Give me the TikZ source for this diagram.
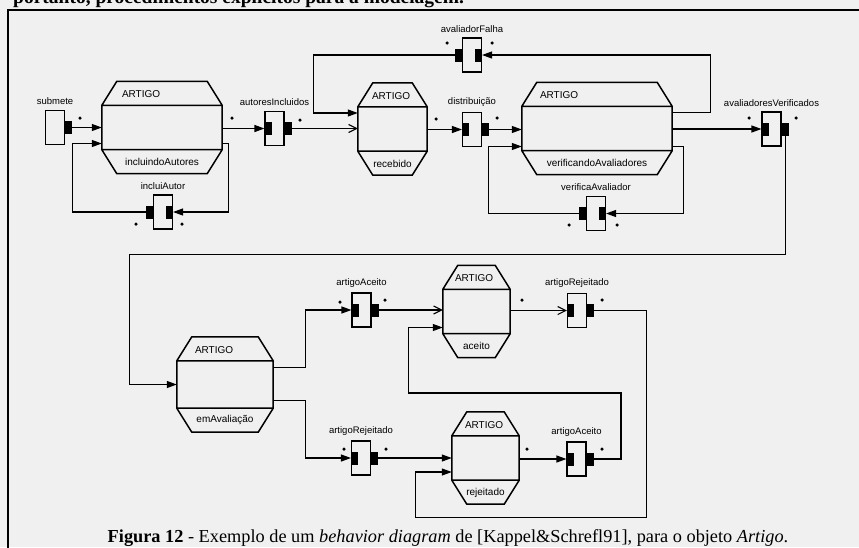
\documentclass[tikz,border=0pt]{standalone}
\usepackage{fontspec}
\setmainfont{Liberation Serif}
\newfontfamily\diagfont{Liberation Sans}
\usetikzlibrary{positioning,arrows.meta,calc}
\definecolor{paper}{gray}{0.94}

\begin{document}
\begin{tikzpicture}[x=1pt, y=-1pt,
        state/.style={rectangle, minimum height=92pt, inner sep=0pt},
        stline/.style={line width=1.5pt, line join=miter},
        sttext/.style={font=\diagfont\fontsize{10}{12}\selectfont, inner sep=0pt},
        act/.style={draw, fill=paper, line width=1.1pt, minimum width=19pt, minimum height=34pt, inner sep=0pt},
        port/.style={fill=black, minimum width=7pt, minimum height=13pt, inner sep=0pt},
        actlbl/.style={font=\diagfont\fontsize{9.5}{11}\selectfont, inner sep=1pt},
        arcdot/.style={circle, fill=black, minimum size=3.5pt, inner sep=0pt},
        arr/.style={-{Triangle[length=10pt,width=7pt]}, line width=1.1pt},
        arro/.style={-{Straight Barb[length=8pt,width=8pt]}, line width=1.1pt}]
        \useasboundingbox[fill=paper] (0,0) rectangle (859,547);

        % Page
        \node[anchor=base west, font=\bfseries\fontsize{19.5}{22}\selectfont, inner sep=0pt] (toptext) at (13,3) {portanto, procedimentos explícitos para a modelagem.};
        \draw[line width=1.4pt] (8,560) -- (8,10) -- (870,10);

        % States
        \node[state, minimum width=120pt] (incl) at (162,127.5) {};
        \node[state, minimum width=69pt] (rec) at (392.5,129) {};
        \node[state, minimum width=150pt] (verif) at (597,128.5) {};
        \node[state, minimum width=96pt, minimum height=95pt] (emav) at (225,384.5) {};
        \node[state, minimum width=67pt] (acei) at (476.5,311.5) {};
        \node[state, minimum width=67pt] (rejt) at (485.5,458) {};

        \foreach \s in {incl,rec,verif,emav,acei,rejt}
            \draw[stline] ([xshift=15pt]\s.north west) -- ([xshift=-15pt]\s.north east)
                -- ([yshift=-24pt]\s.north east) -- ([yshift=24pt]\s.south east)
                -- ([xshift=-15pt]\s.south east) -- ([xshift=15pt]\s.south west)
                -- ([yshift=24pt]\s.south west) -- ([yshift=-24pt]\s.north west) -- cycle
                ([yshift=-24pt]\s.north west) -- ([yshift=-24pt]\s.north east)
                ([yshift=24pt]\s.south west) -- ([yshift=24pt]\s.south east);

        \node[sttext, anchor=west] (incl-a) at ($(incl.north west)+(20,13)$) {ARTIGO};
        \node[sttext] (incl-n) at ($(incl.south)+(0,-11.5)$) {incluindoAutores};
        \node[sttext, anchor=west] (rec-a) at ($(rec.north west)+(14,13)$) {ARTIGO};
        \node[sttext] (rec-n) at ($(rec.south)+(0,-11.5)$) {recebido};
        \node[sttext, anchor=west] (verif-a) at ($(verif.north west)+(18,13)$) {ARTIGO};
        \node[sttext] (verif-n) at ($(verif.south)+(0,-11.5)$) {verificandoAvaliadores};
        \node[sttext, anchor=west] (emav-a) at ($(emav.north west)+(18,13)$) {ARTIGO};
        \node[sttext] (emav-n) at ($(emav.south)+(0,-12.5)$) {emAvaliação};
        \node[sttext, anchor=west] (acei-a) at ($(acei.north west)+(12,13)$) {ARTIGO};
        \node[sttext] (acei-n) at ($(acei.south)+(0,-11.5)$) {aceito};
        \node[sttext, anchor=west] (rejt-a) at ($(rejt.north west)+(13,13)$) {ARTIGO};
        \node[sttext] (rejt-n) at ($(rejt.south)+(0,-11.5)$) {rejeitado};

        % Activities
        \node[act] (subm) at (55,127.5) {};
        \node[port, anchor=west] (subm-o) at (subm.east) {};
        \node[actlbl, above=4pt of subm] (subm-l) {submete};

        \node[act] (autinc) at (274.5,128.5) {};
        \node[port, anchor=west] (autinc-i) at (autinc.west) {};
        \node[port, anchor=west] (autinc-o) at (autinc.east) {};
        \node[actlbl, above=4pt of autinc] (autinc-l) {autoresIncluidos};

        \node[act] (incaut) at (163,212) {};
        \node[port, anchor=east] (incaut-i) at (incaut.east) {};
        \node[port, anchor=east] (incaut-o) at (incaut.west) {};
        \node[actlbl, above=4pt of incaut] (incaut-l) {incluiAutor};

        \node[act] (distr) at (472,129.5) {};
        \node[port, anchor=west] (distr-i) at (distr.west) {};
        \node[port, anchor=west] (distr-o) at (distr.east) {};
        \node[actlbl, above=4pt of distr] (distr-l) {distribuição};

        \node[act] (avfal) at (472,55) {};
        \node[port, anchor=east] (avfal-i) at (avfal.east) {};
        \node[port, anchor=east] (avfal-o) at (avfal.west) {};
        \node[actlbl, above=4pt of avfal] (avfal-l) {avaliadorFalha};

        \node[act] (veraval) at (596,213.5) {};
        \node[port, anchor=east] (veraval-i) at (veraval.east) {};
        \node[port, anchor=east] (veraval-o) at (veraval.west) {};
        \node[actlbl, above=4pt of veraval] (veraval-l) {verificaAvaliador};

        \node[act] (avver) at (771.5,129) {};
        \node[port, anchor=west] (avver-i) at (avver.west) {};
        \node[port, anchor=west] (avver-o) at (avver.east) {};
        \node[actlbl, above=4pt of avver] (avver-l) {avaliadoresVerificados};

        \node[act] (aceA) at (361.5,310) {};
        \node[port, anchor=west] (aceA-i) at (aceA.west) {};
        \node[port, anchor=west] (aceA-o) at (aceA.east) {};
        \node[actlbl, above=4pt of aceA] (aceA-l) {artigoAceito};

        \node[act] (rejA) at (577,310.5) {};
        \node[port, anchor=west] (rejA-i) at (rejA.west) {};
        \node[port, anchor=west] (rejA-o) at (rejA.east) {};
        \node[actlbl, above=4pt of rejA] (rejA-l) {artigoRejeitado};

        \node[act] (rejB) at (361,458) {};
        \node[port, anchor=west] (rejB-i) at (rejB.west) {};
        \node[port, anchor=west] (rejB-o) at (rejB.east) {};
        \node[actlbl, above=4pt of rejB] (rejB-l) {artigoRejeitado};

        \node[act] (aceB) at (576.5,459) {};
        \node[port, anchor=west] (aceB-i) at (aceB.west) {};
        \node[port, anchor=west] (aceB-o) at (aceB.east) {};
        \node[actlbl, above=4pt of aceB] (aceB-l) {artigoAceito};

        % Arcs
        \draw[arr] (subm-o.east) -- (subm-o -| incl.west);
        \draw[arr] (incl.east |- autinc-i) -- (autinc-i.west);
        \draw[arro] (autinc-o.east) -- (autinc-o -| rec.west);
        \draw[arr] ([yshift=-16pt]incl.east) -- ++(6,0) |- (incaut-i.east);
        \draw[arr] (incaut-o.west) -| ([xshift=-29pt,yshift=-16pt]incl.west) -- ([yshift=-16pt]incl.west);

        \draw[arr] (rec.east |- distr-i) -- (distr-i.west);
        \draw[arr] (distr-o.east) -- (distr-o -| verif.west);
        \draw[arr] ([yshift=16pt]verif.east) -- ++(38,0) |- (avfal-i.east);
        \draw[arr] (avfal-o.west) -| ([xshift=-44pt,yshift=16pt]rec.west) -- ([yshift=16pt]rec.west);
        \draw[arr] ([yshift=-18pt]verif.east) -- ++(11,0) |- (veraval-i.east);
        \draw[arr] (veraval-o.west) -| ([xshift=-33pt,yshift=-18pt]verif.west) -- ([yshift=-18pt]verif.west);

        \draw[arr] (verif.east |- avver-i) -- (avver-i.west);
        \draw[arr] (avver-o.south) -- ++(0,119) -| ([xshift=-47pt]emav.west) -- (emav.west);

        \draw[arr] ([yshift=17pt]emav.east) -- ++(32,0) |- (aceA-i.west);
        \draw[arr] ([yshift=-16pt]emav.east) -- ++(32,0) |- (rejB-i.west);
        \draw[arro] (aceA-o.east) -- (aceA-o -| acei.west);
        \draw[arr] (rejB-o.east) -- (rejB-o -| rejt.west);
        \draw[arro] (acei.east |- rejA-i) -- (rejA-i.west);
        \draw[arr] (rejA-o.east) -- ++(52,0) -- ++(0,207) -| ([xshift=-36pt,yshift=-14pt]rejt.west) -- ([yshift=-14pt]rejt.west);
        \draw[arr] (rejt.east |- aceB-i) -- (aceB-i.west);
        \draw[arr] (aceB-o.east) -- ++(27,0) -- ++(0,-66) -| ([xshift=-34pt,yshift=-16pt]acei.west) -- ([yshift=-16pt]acei.west);

        % Arc marks
        \node[arcdot] (d1) at (80,118) {};
        \node[arcdot] (d2) at (232,118) {};
        \node[arcdot] (d3) at (300,120) {};
        \node[arcdot] (d4) at (136,224) {};
        \node[arcdot] (d5) at (182,224) {};
        \node[arcdot] (d6) at (436,119) {};
        \node[arcdot] (d7) at (497,118) {};
        \node[arcdot] (d8) at (447,43) {};
        \node[arcdot] (d9) at (492,43) {};
        \node[arcdot] (d10) at (569,225) {};
        \node[arcdot] (d11) at (617,225) {};
        \node[arcdot] (d12) at (749,118) {};
        \node[arcdot] (d13) at (796,118) {};
        \node[arcdot] (d14) at (340,302) {};
        \node[arcdot] (d15) at (385,300) {};
        \node[arcdot] (d16) at (522,300) {};
        \node[arcdot] (d17) at (602,300) {};
        \node[arcdot] (d18) at (344,449) {};
        \node[arcdot] (d19) at (386,449) {};
        \node[arcdot] (d20) at (527,449) {};
        \node[arcdot] (d21) at (602,449) {};

        % Caption
        \node[anchor=base, font=\fontsize{18.3}{22}\selectfont, inner sep=0pt] (caption) at (448,542) {\textbf{Figura 12} - Exemplo de um \textit{behavior diagram} de [Kappel\&Schrefl91], para o objeto \textit{Artigo}.};
    \end{tikzpicture}
\end{document}
